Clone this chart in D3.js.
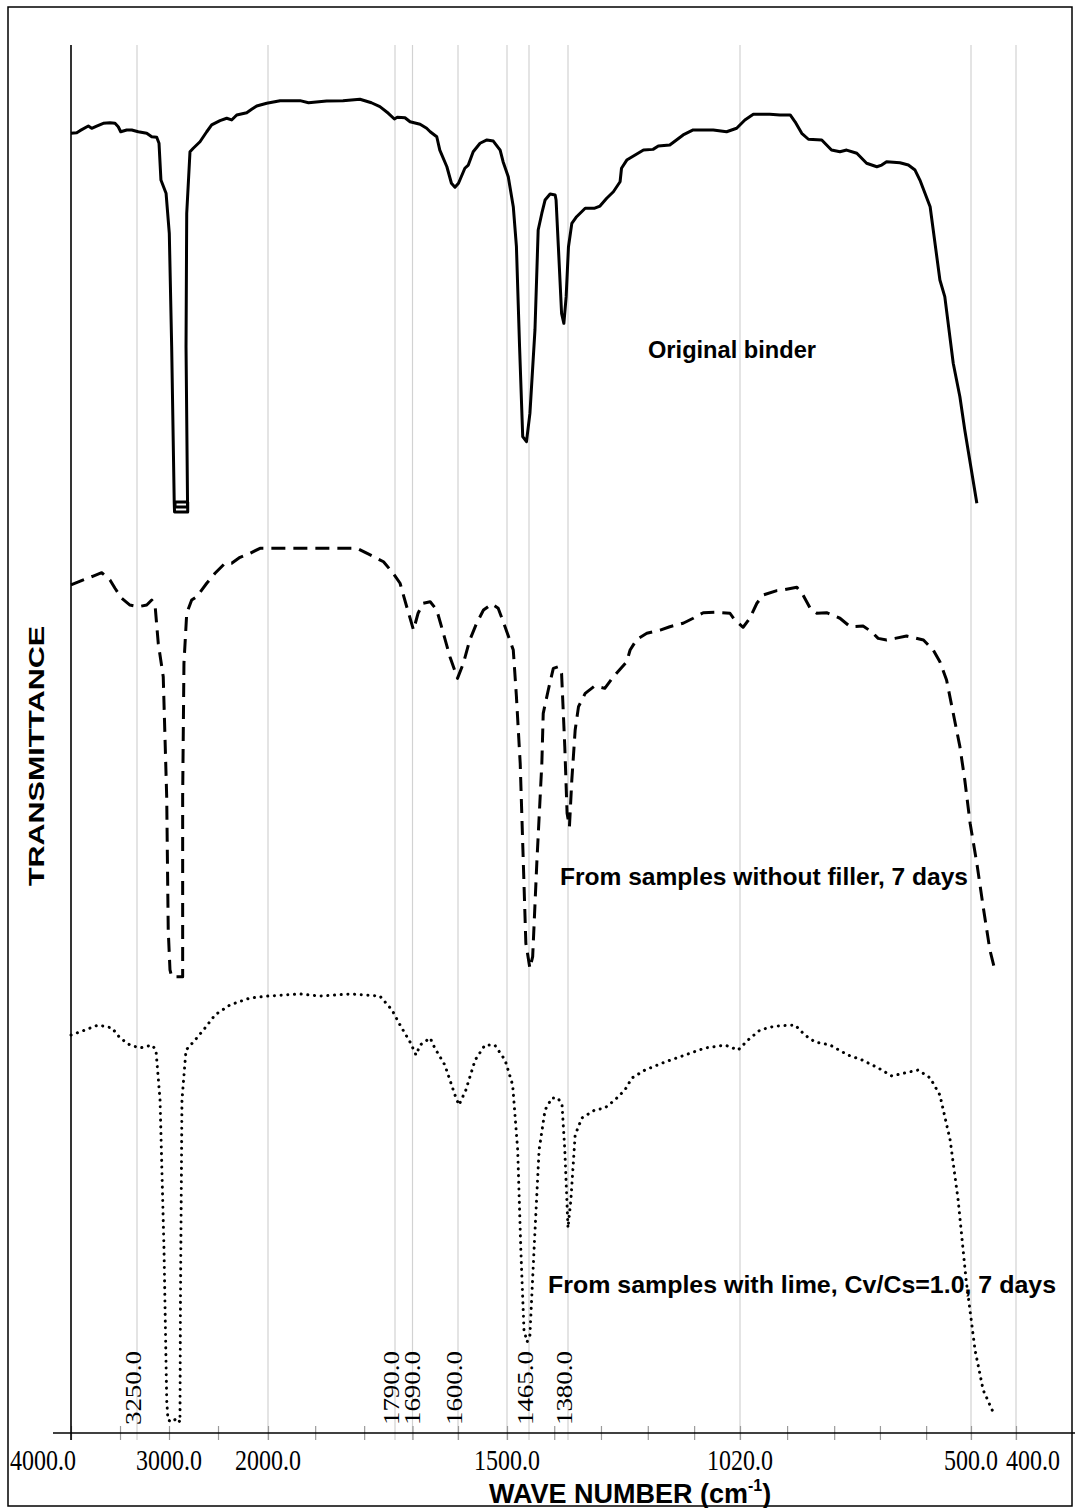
<!DOCTYPE html>
<html>
<head>
<meta charset="utf-8">
<script src="https://cdn.jsdelivr.net/npm/d3@7"></script>
<style>
  html, body { margin: 0; padding: 0; background: #fff; }
  svg { display: block; }
</style>
</head>
<body>
<script>
// FTIR transmittance spectra of the binder (wave number in cm-1, transmittance in arbitrary offset units)
const original = [
  [4000,93.64],[3935,93.68],[3898,93.83],[3803,94.16],[3765,94.0],[3708,94.16],[3633,94.36],[3557,94.40],
  [3500,94.36],[3463,94.11],[3435,93.75],[3367,93.88],[3310,93.88],[3240,93.75],[3174,93.64],[3135,93.39],
  [3096,93.35],[3078,92.92],[3063,90.27],[3023,89.32],[2997,86.43],[2973,78.26],[2947,66.98],[2944,66.35],
  [2811,66.35],[2811,67.08],[2939,67.08],[2939,66.71],[2813,66.71],[2813,67.22],[2828,78.26],[2821,87.88],
  [2788,92.31],[2755,92.56],[2687,93.03],[2619,93.75],[2569,94.24],[2485,94.55],[2417,94.72],[2367,94.60],
  [2316,94.96],[2215,95.12],[2165,95.37],[2114,95.61],[2013,95.80],[1980,95.99],[1947,95.99],[1933,95.84],
  [1903,95.97],[1876,95.99],[1848,96.09],[1829,95.84],[1815,95.56],[1801,95.08],[1791,94.67],[1777,94.79],
  [1733,94.76],[1704,94.47],[1675,94.29],[1662,94.0],[1655,93.75],[1642,93.39],[1636,92.43],[1622,91.23],
  [1613,90.04],[1606,89.75],[1599,90.04],[1586,91.12],[1579,91.35],[1569,92.31],[1555,92.92],[1541,93.16],
  [1528,93.08],[1514,92.43],[1508,91.59],[1498,90.51],[1490,88.35],[1485,85.47],[1480,78.26],[1475,71.78],
  [1469,71.42],[1463,73.46],[1452,79.47],[1445,86.67],[1437,87.88],[1430,88.83],[1419,89.27],[1408,89.19],
  [1406,88.83],[1401,85.47],[1394,80.67],[1389,79.95],[1384,81.87],[1379,85.47],[1372,87.15],[1362,87.63],
  [1344,88.24],[1324,88.24],[1313,88.40],[1299,88.96],[1285,89.43],[1271,90.15],[1268,91.12],[1257,91.71],
  [1243,92.0],[1222,92.43],[1202,92.48],[1191,92.72],[1167,92.80],[1153,93.16],[1139,93.52],[1118,93.88],
  [1076,93.88],[1048,93.75],[1027,94.0],[1009,94.60],[990,95.01],[953,95.01],[930,94.96],[907,94.96],
  [896,94.47],[881,93.64],[866,93.21],[836,93.16],[814,92.43],[795,92.31],[780,92.43],[757,92.20],
  [735,91.48],[712,91.23],[701,91.35],[690,91.59],[660,91.52],[641,91.35],[626,90.99],[615,90.27],
  [592,88.35],[570,83.07],[559,81.87],[540,77.07],[525,74.66],[514,72.26],[487,66.98]
];

const withoutFiller = [
  [4000,61.10],[3860,61.46],[3747,61.74],[3651,61.98],[3557,61.46],[3500,60.86],[3424,60.14],[3330,59.65],
  [3240,59.53],[3174,59.65],[3135,60.01],[3109,59.65],[3084,56.90],[3045,54.49],[3018,45.84],[3006,36.24],
  [2990,33.36],[2973,32.87],[2862,32.87],[2862,33.84],[2862,45.84],[2849,55.45],[2821,59.06],[2771,60.01],
  [2720,60.25],[2619,61.22],[2535,61.94],[2434,62.66],[2367,62.66],[2283,63.09],[2182,63.38],[2081,63.74],
  [1958,63.74],[1903,63.74],[1853,63.74],[1831,63.26],[1809,62.77],[1793,61.94],[1761,61.22],[1723,59.53],
  [1688,57.85],[1679,59.06],[1669,59.78],[1655,59.89],[1642,59.29],[1629,57.62],[1616,55.93],[1601,54.37],
  [1589,55.45],[1576,57.13],[1562,58.34],[1548,59.29],[1531,59.73],[1518,59.42],[1504,58.09],[1490,56.41],
  [1485,53.05],[1479,48.25],[1474,41.04],[1470,35.28],[1463,33.48],[1457,34.32],[1448,41.04],[1437,48.25],
  [1434,51.85],[1423,53.53],[1412,55.09],[1401,55.21],[1394,54.73],[1387,49.45],[1382,44.65],[1377,43.68],
  [1372,47.05],[1365,50.65],[1358,52.33],[1344,53.29],[1324,53.82],[1303,53.65],[1285,54.49],[1257,55.57],
  [1250,56.41],[1236,57.18],[1215,57.62],[1187,57.85],[1167,58.09],[1139,58.34],[1118,58.70],[1097,59.10],
  [1069,59.13],[1041,59.06],[1031,58.57],[1013,58.05],[998,58.70],[982,59.78],[968,60.37],[937,60.69],
  [923,60.74],[892,60.93],[878,60.37],[862,59.42],[847,59.06],[825,59.10],[795,58.70],[772,58.09],
  [743,58.14],[724,57.73],[709,57.25],[690,57.13],[671,57.25],[645,57.42],[607,57.13],[585,56.41],
  [570,55.57],[555,54.25],[540,51.85],[525,49.45],[514,47.05],[502,43.93],[487,41.04],[473,37.92],
  [458,34.80],[447,33.36]
];

const withLime = [
  [4000,28.67],[3841,29.03],[3693,29.39],[3636,29.32],[3534,29.18],[3443,28.46],[3330,27.95],[3227,27.74],
  [3133,27.95],[3102,27.59],[3070,23.99],[3039,13.18],[3018,2.38],[3008,0.94],[2970,0.79],[2919,1.08],
  [2889,0.79],[2884,9.58],[2869,23.99],[2828,27.59],[2737,28.31],[2636,29.18],[2535,30.12],[2384,30.84],
  [2182,31.34],[2000,31.48],[1947,31.63],[1914,31.48],[1864,31.63],[1815,31.48],[1795,30.48],[1761,29.39],
  [1704,28.17],[1683,27.23],[1675,27.95],[1655,28.46],[1646,27.74],[1626,26.51],[1606,24.35],[1598,23.63],
  [1584,24.71],[1565,26.87],[1545,27.95],[1525,27.95],[1504,26.87],[1491,25.07],[1483,20.39],[1478,13.18],
  [1473,7.42],[1468,6.56],[1463,7.06],[1454,13.18],[1443,20.39],[1430,23.27],[1415,24.14],[1402,24.14],
  [1393,23.63],[1387,20.39],[1380,14.77],[1374,16.79],[1365,21.47],[1351,22.69],[1324,23.27],[1303,23.41],
  [1282,23.99],[1261,24.71],[1246,25.58],[1219,26.15],[1177,26.73],[1135,27.23],[1093,27.74],[1051,27.95],
  [1024,27.59],[1002,28.31],[975,29.03],[941,29.32],[896,29.39],[874,28.67],[851,28.17],[817,27.95],
  [777,27.23],[745,26.87],[709,26.30],[678,25.72],[649,25.94],[619,26.15],[592,25.58],[570,24.35],
  [547,21.11],[529,16.79],[511,11.02],[491,5.98],[473,3.10],[451,1.51]
];

// axis annotations
const tickLabelValues = [4000, 3000, 2000, 1500, 1020, 500, 400];
const tickLabels = ["4000.0", "3000.0", "2000.0", "1500.0", "1020.0", "500.0", "400.0"];
const minorTicks = [4000, 3443, 3000, 2505, 2000, 1922, 1841, 1690, 1600, 1500, 1410, 1311, 1213, 1116, 1020, 914, 808, 705, 601, 500, 400];
const gridValues = [3250, 2000, 1790, 1690, 1600, 1500, 1465, 1380, 1020, 500, 400];
const bandValues = [3250, 1790, 1690, 1600, 1465, 1380];
const bandLabels = ["3250.0", "1790.0", "1690.0", "1600.0", "1465.0", "1380.0"];

const seriesNames = [
  "Original binder",
  "From samples without filler, 7 days",
  "From samples with lime, Cv/Cs=1.0, 7 days"
];

const W = 1075, H = 1508;
const svg = d3.select("body").append("svg").attr("width", W).attr("height", H);
svg.append("rect").attr("width", W).attr("height", H).attr("fill", "#fff");

// outer frame
svg.append("rect").attr("x", 8).attr("y", 7).attr("width", 1064).attr("height", 1499)
  .attr("fill", "none").attr("stroke", "#000").attr("stroke-width", 1.5);

// piecewise wave-number axis (scale changes between the marked bands)
const x = d3.scaleLinear()
  .domain([4000, 3250, 3000, 2000, 1790, 1690, 1600, 1500, 1465, 1380, 1020, 500, 400])
  .range([71, 137, 169, 268, 395, 412.5, 458, 507, 529, 568, 740, 971, 1016]);
const y = d3.scaleLinear().domain([0, 100]).range([1433, 45]);

const serif = "'Liberation Serif', 'Times New Roman', serif";
const sans = "'Liberation Sans', Arial, Helvetica, sans-serif";

// vertical grid lines
svg.append("g").selectAll("line").data(gridValues).join("line")
  .attr("x1", d => x(d)).attr("x2", d => x(d))
  .attr("y1", y(100)).attr("y2", y(0) + 7)
  .attr("stroke", "#d2d2d2").attr("stroke-width", 1.2);

// x axis with crossing tick marks
const xAxis = d3.axisBottom(x).tickValues(minorTicks).tickSize(7).tickFormat("");
const gx = svg.append("g").attr("transform", `translate(0,${y(0)})`).call(xAxis);
gx.select(".domain").remove();
gx.selectAll(".tick line").attr("y1", -7).attr("y2", 7).attr("stroke", "#9a9a9a").attr("stroke-width", 1.2);
svg.append("line").attr("x1", 53).attr("x2", W).attr("y1", y(0)).attr("y2", y(0))
  .attr("stroke", "#000").attr("stroke-width", 1.6);

// y axis line
svg.append("line").attr("x1", x(4000)).attr("x2", x(4000)).attr("y1", y(100)).attr("y2", y(0) + 7)
  .attr("stroke", "#000").attr("stroke-width", 1.6);

// horizontal tick labels
const labelShift = { 4000: -28, 400: 17 };
svg.append("g").selectAll("text").data(tickLabelValues).join("text")
  .attr("transform", d => `translate(${x(d) + (labelShift[d] || 0)},1470) scale(1,1.2)`)
  .attr("text-anchor", "middle")
  .attr("font-family", serif).attr("font-size", 24)
  .text((d, i) => tickLabels[i]);

// rotated band labels next to the grid lines
svg.append("g").selectAll("text").data(bandValues).join("text")
  .attr("transform", d => `translate(${x(d) + (d === 1690 ? 7 : 4)},1425) rotate(-90) scale(1.12,1)`)
  .attr("text-anchor", "start")
  .attr("font-family", serif).attr("font-size", 24)
  .text((d, i) => bandLabels[i]);

// spectra
const line = d3.line().x(d => x(d[0])).y(d => y(d[1]));
const styles = [
  { data: original, dash: null, cap: "butt" },
  { data: withoutFiller, dash: "14,8", cap: "butt" },
  { data: withLime, dash: "0.1,6.6", cap: "round" }
];
svg.append("g").selectAll("path").data(styles).join("path")
  .attr("d", d => line(d.data))
  .attr("fill", "none").attr("stroke", "#000").attr("stroke-width", 3)
  .attr("stroke-linejoin", "round")
  .attr("stroke-linecap", d => d.cap)
  .attr("stroke-dasharray", d => d.dash);

// series captions
const captions = [
  { x: 648, y: 358, len: 168 },
  { x: 560, y: 885, len: 408 },
  { x: 548, y: 1293, len: 508 }
];
svg.append("g").selectAll("text").data(captions).join("text")
  .attr("x", d => d.x).attr("y", d => d.y)
  .attr("font-family", sans).attr("font-weight", "bold").attr("font-size", 24)
  .attr("textLength", d => d.len).attr("lengthAdjust", "spacingAndGlyphs")
  .text((d, i) => seriesNames[i]);

// axis titles
svg.append("text")
  .attr("transform", "translate(44,756) rotate(-90)")
  .attr("text-anchor", "middle")
  .attr("font-family", sans).attr("font-weight", "bold").attr("font-size", 22)
  .attr("textLength", 260).attr("lengthAdjust", "spacingAndGlyphs")
  .text("TRANSMITTANCE");

const xt = svg.append("text").attr("x", 489).attr("y", 1503)
  .attr("font-family", sans).attr("font-weight", "bold").attr("font-size", 27);
xt.append("tspan").text("WAVE NUMBER (cm");
xt.append("tspan").attr("font-size", 16).attr("dy", -12).text("-1");
xt.append("tspan").attr("dy", 12).text(")");
</script>
</body>
</html>
